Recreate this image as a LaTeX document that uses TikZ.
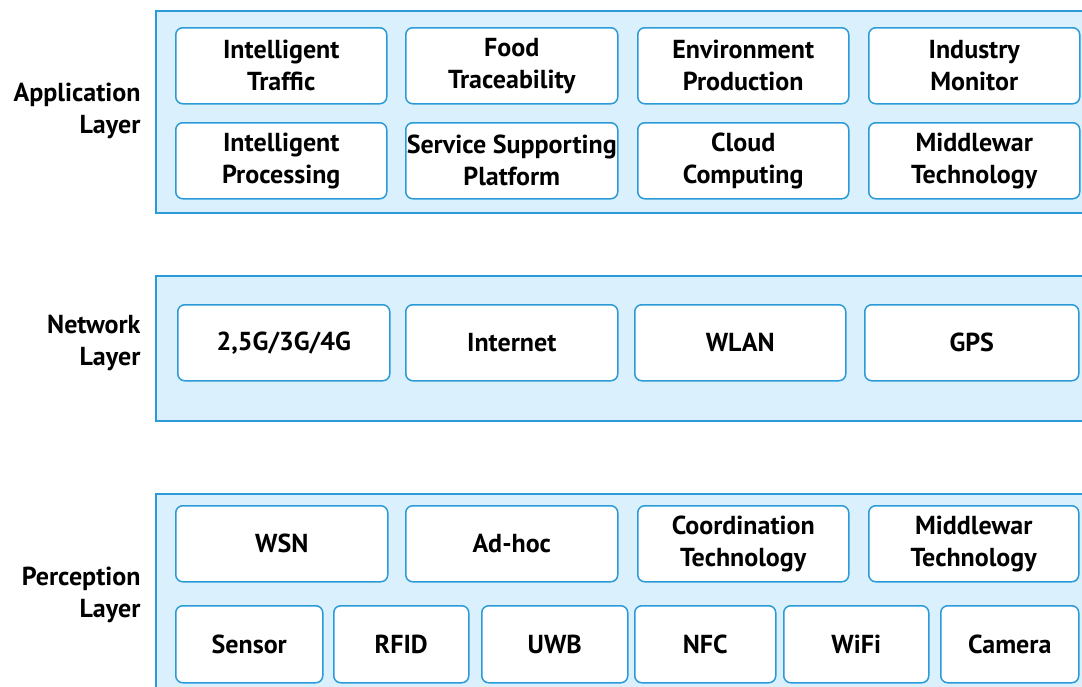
\documentclass[tikz,border=0pt]{standalone}
\usepackage{fontspec}
\setmainfont{PT Sans}
\usetikzlibrary{positioning}

\definecolor{layerfill}{HTML}{DAF0FC}
\definecolor{layerline}{HTML}{2A9AD8}

\begin{document}
\begin{tikzpicture}[
  x=1pt, y=-1pt,
  layer/.style={draw=layerline, fill=layerfill, line width=1.5pt, rectangle, anchor=north west, inner sep=0pt},
  item/.style={draw=layerline, fill=white, line width=1.5pt, rectangle, rounded corners=7pt, anchor=north west, inner sep=0pt, align=center, font=\bfseries\fontsize{26}{32}\selectfont},
  layername/.style={align=right, anchor=east, font=\bfseries\fontsize{26}{32}\selectfont}
]
\useasboundingbox (0,0) rectangle (1082,686);

% application layer
\node[layer, minimum width=935pt, minimum height=202pt] (app) at (155,10) {};
\node[layername] (applbl) at (144,111) {Application\\Layer};
\node[item, minimum width=211pt, minimum height=76pt] (traffic) at (175,27) {Intelligent\\Traffic};
\node[item, minimum width=212pt, minimum height=76pt] (food) at (405,27) {Food\\Traceability};
\node[item, minimum width=211pt, minimum height=76pt] (envprod) at (637,27) {Environment\\Production};
\node[item, minimum width=211pt, minimum height=76pt] (industry) at (868,27) {Industry\\Monitor};
\node[item, minimum width=211pt, minimum height=76pt] (processing) at (175,122) {Intelligent\\Processing};
\node[item, minimum width=212pt, minimum height=76pt] (service) at (405,122) {Service Supporting\\Platform};
\node[item, minimum width=211pt, minimum height=76pt] (cloud) at (637,122) {Cloud\\Computing};
\node[item, minimum width=211pt, minimum height=76pt] (middleapp) at (868,122) {Middlewar\\Technology};

% network layer
\node[layer, minimum width=935pt, minimum height=145pt] (net) at (155,275) {};
\node[layername] (netlbl) at (144,343) {Network\\Layer};
\node[item, minimum width=212pt, minimum height=76pt] (mobile) at (177,304) {2,5G/3G/4G};
\node[item, minimum width=212pt, minimum height=76pt] (internet) at (405,304) {Internet};
\node[item, minimum width=211pt, minimum height=76pt] (wlan) at (634,304) {WLAN};
\node[item, minimum width=214pt, minimum height=76pt] (gps) at (864,304) {GPS};

% perception layer
\node[layer, minimum width=935pt, minimum height=210pt] (perc) at (155,493) {};
\node[layername] (perclbl) at (144,595) {Perception\\Layer};
\node[item, minimum width=212pt, minimum height=76pt] (wsn) at (175,505) {WSN};
\node[item, minimum width=212pt, minimum height=76pt] (adhoc) at (405,505) {Ad-hoc};
\node[item, minimum width=211pt, minimum height=76pt] (coord) at (637,505) {Coordination\\Technology};
\node[item, minimum width=210pt, minimum height=76pt] (middleperc) at (868,505) {Middlewar\\Technology};
\node[item, minimum width=147pt, minimum height=77pt] (sensor) at (175,605) {Sensor};
\node[item, minimum width=135pt, minimum height=77pt] (rfid) at (333,605) {RFID};
\node[item, minimum width=146pt, minimum height=77pt] (uwb) at (481,605) {UWB};
\node[item, minimum width=141pt, minimum height=77pt] (nfc) at (634,605) {NFC};
\node[item, minimum width=145pt, minimum height=77pt] (wifi) at (783,605) {WiFi};
\node[item, minimum width=138pt, minimum height=77pt] (camera) at (940,605) {Camera};

\end{tikzpicture}
\end{document}
